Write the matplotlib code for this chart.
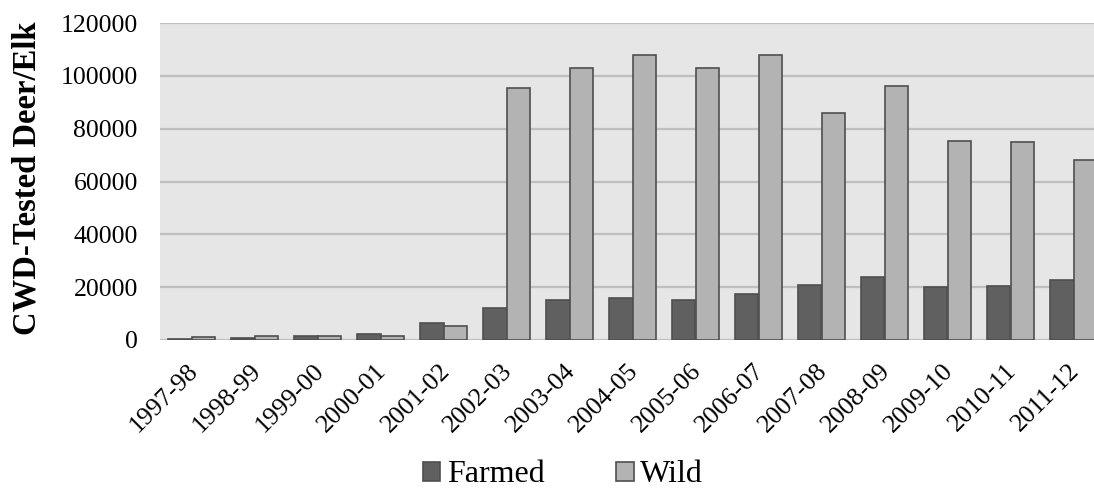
import matplotlib
matplotlib.use("Agg")
import matplotlib.pyplot as plt
from matplotlib.patches import Patch
from matplotlib.transforms import ScaledTranslation
import numpy as np

seasons = ["1997-98", "1998-99", "1999-00", "2000-01", "2001-02", "2002-03",
           "2003-04", "2004-05", "2005-06", "2006-07", "2007-08", "2008-09",
           "2009-10", "2010-11", "2011-12"]
farmed = [500, 800, 1700, 2200, 6300, 12200, 15300, 15800, 15000, 17300,
          21000, 23700, 20000, 20500, 22600]
wild = [1200, 1500, 1700, 1400, 5200, 95500, 103000, 108000, 103000, 108000,
        85800, 96000, 75500, 75000, 68000]
yticks = [0, 20000, 40000, 60000, 80000, 100000, 120000]

plt.rcParams["font.family"] = ["Liberation Serif", "DejaVu Serif"]

fig = plt.figure(figsize=(10.94, 4.96), dpi=100)
# plot area runs a little past the right edge of the figure
ax = fig.add_axes([160 / 1094, 156 / 496, 945 / 1094, 317 / 496])
ax.set_facecolor("#e6e6e6")

x = np.arange(len(seasons))
w = 0.373
edge = "#4f4f4f"
ax.bar(x - w / 2, farmed, w, color="#606060", edgecolor=edge, linewidth=1.2, zorder=3)
ax.bar(x + w / 2, wild, w, color="#b3b3b3", edgecolor=edge, linewidth=1.2, zorder=3)

ax.set_xlim(-0.5, len(seasons) - 0.5)
ax.set_ylim(0, 120000)
ax.set_yticks(yticks)
ax.set_yticklabels([str(v) for v in yticks], fontsize=18.5)
ax.yaxis.grid(True, color="#bfbfbf", linewidth=1.6, zorder=0)
ax.set_axisbelow(True)
for s in ax.spines.values():
    s.set_visible(False)
ax.tick_params(axis="y", length=0, pad=16)
ax.tick_params(axis="x", length=0, pad=14)
ax.set_xticks(x)
ax.set_xticklabels(seasons, fontsize=18.7, rotation=45, ha="right",
                   rotation_mode="anchor")
shift = ScaledTranslation(-5 / 100, 0, fig.dpi_scale_trans)
for lbl in ax.get_xticklabels():
    lbl.set_transform(lbl.get_transform() + shift)

fig.text(27 / 1094, 1 - 178.5 / 496, "CWD-Tested Deer/Elk", rotation=90,
         ha="center", va="center", fontsize=23.5, fontweight="bold")

handles = [Patch(facecolor="#606060", edgecolor=edge, linewidth=1.2, label="Farmed"),
           Patch(facecolor="#b3b3b3", edgecolor=edge, linewidth=1.2, label="Wild")]
fig.legend(handles=handles, loc="center", bbox_to_anchor=(563 / 1094, 1 - 475 / 496),
           ncol=2, frameon=False, fontsize=23, handlelength=0.55, handleheight=0.55,
           handletextpad=0.2, columnspacing=2.25)

fig.savefig("out.png", dpi=100)
